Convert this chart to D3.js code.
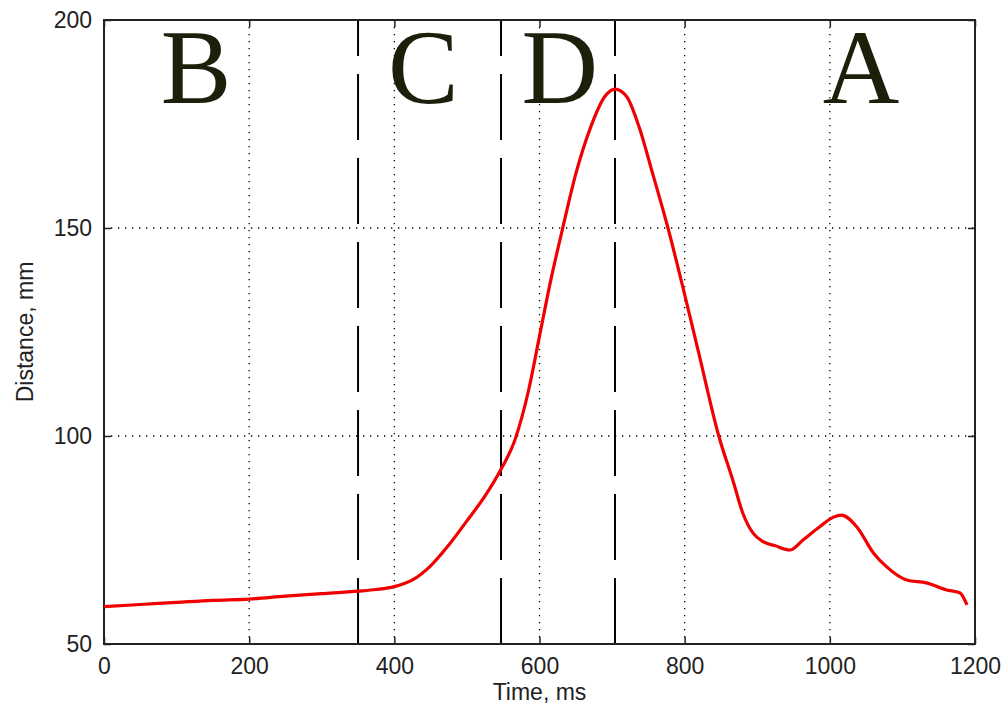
<!DOCTYPE html>
<html><head><meta charset="utf-8">
<script src="https://cdn.jsdelivr.net/npm/d3@7"></script>
<style>html,body{margin:0;padding:0;background:#fff;}</style>
</head><body>
<svg id="c" width="1008" height="715"></svg>
<script>
const timeMs = [0,50,100,150,200,250,300,350,375,400,425,450,475,500,525,547,566,585,600,615,632,650,670,690,704,720,737,756,777,800,820,847,867,880,894,908,925,945,963,986,1005,1016,1037,1060,1078,1106,1133,1161,1179,1189];
const distanceMm = [59,59.5,60,60.5,60.8,61.5,62.1,62.7,63.1,63.8,65.4,68.8,73.8,79.6,85.6,92,99,111,124,137,150,163,174,181.6,183.4,181.6,174.4,163,150,134,119.5,100,89,81.5,76.7,74.6,73.6,72.6,75,78.2,80.5,81,78.2,71.9,68.6,65.4,64.7,63,62.3,59.4];
const xTicks = [0,200,400,600,800,1000,1200];
const yTicks = [50,100,150,200];
const phaseBounds = [350,547,704];
const phaseLabels = ["B","C","D","A"];
const phaseLabelX = [127,440,628,1043];
const phaseLabelY = 180;

const svg = d3.select("#c");
const L=104, R=975, T=20, B=644;
const x = d3.scaleLinear().domain([0,1200]).range([L,R]);
const y = d3.scaleLinear().domain([50,200]).range([B,T]);

const g = svg.append("g");
// grid
g.selectAll(".vg").data(xTicks.slice(1,-1)).enter().append("line")
 .attr("x1",d=>x(d)).attr("x2",d=>x(d)).attr("y1",T).attr("y2",B)
 .attr("stroke","#000").attr("stroke-width",1.3).attr("stroke-dasharray","1.3,5.7");
g.selectAll(".hg").data(yTicks.slice(1,-1)).enter().append("line")
 .attr("y1",d=>y(d)).attr("y2",d=>y(d)).attr("x1",L).attr("x2",R)
 .attr("stroke","#000").attr("stroke-width",1.3).attr("stroke-dasharray","1.3,5.7");

// phase boundaries (dashed, drawn from bottom up)
g.selectAll(".pb").data(phaseBounds).enter().append("line")
 .attr("x1",d=>x(d)).attr("x2",d=>x(d)).attr("y1",B).attr("y2",T)
 .attr("stroke","#000").attr("stroke-width",2).attr("stroke-dasharray","66,18");

// axes with inward ticks
const fmt = d3.format("d");
const xAx = d3.axisBottom(x).tickValues(xTicks).tickFormat(fmt).tickSizeInner(-7).tickSizeOuter(0).tickPadding(14);
const yAx = d3.axisLeft(y).tickValues(yTicks).tickFormat(fmt).tickSizeInner(-7).tickSizeOuter(0).tickPadding(12);
const xa = svg.append("g").attr("transform",`translate(0,${B})`).call(xAx);
const ya = svg.append("g").attr("transform",`translate(${L},0)`).call(yAx);
const xt = svg.append("g").attr("transform",`translate(0,${T})`).call(d3.axisTop(x).tickValues(xTicks).tickSizeInner(-7).tickSizeOuter(0).tickFormat(""));
const yr = svg.append("g").attr("transform",`translate(${R},0)`).call(d3.axisRight(y).tickValues(yTicks).tickSizeInner(-7).tickSizeOuter(0).tickFormat(""));
[xa,ya,xt,yr].forEach(a=>{a.select(".domain").remove(); a.selectAll("line").attr("stroke","#222").attr("stroke-width",1.5);});
[xa,ya].forEach(a=>a.selectAll("text").attr("font-family","Liberation Sans, Arial, sans-serif").attr("font-size",23).attr("fill","#222"));

// frame
svg.append("rect").attr("x",L).attr("y",T).attr("width",R-L).attr("height",B-T)
 .attr("fill","none").attr("stroke","#222").attr("stroke-width",2);

// curve
const pts = timeMs.map((t,i)=>[t,distanceMm[i]]);
svg.append("path").datum(pts)
 .attr("d",d3.line().x(d=>x(d[0])).y(d=>y(d[1])).curve(d3.curveMonotoneX))
 .attr("fill","none").attr("stroke","#f00000").attr("stroke-width",3.2).attr("stroke-linejoin","round");

// phase letters
svg.selectAll(".pl").data(phaseLabels).enter().append("text")
 .attr("x",(d,i)=>x(phaseLabelX[i])).attr("y",y(phaseLabelY))
 .attr("text-anchor","middle").attr("font-family","Liberation Serif, Times New Roman, serif")
 .attr("font-size",106).attr("fill","#1c1f0a").text(d=>d);

// axis titles
svg.append("text").attr("x",(L+R)/2).attr("y",700).attr("text-anchor","middle")
 .attr("font-family","Liberation Sans, Arial, sans-serif").attr("font-size",23).attr("fill","#222").text("Time, ms");
svg.append("text").attr("transform",`translate(33,${(T+B)/2}) rotate(-90)`).attr("text-anchor","middle")
 .attr("font-family","Liberation Sans, Arial, sans-serif").attr("font-size",23).attr("fill","#222").text("Distance, mm");
</script>
</body></html>
